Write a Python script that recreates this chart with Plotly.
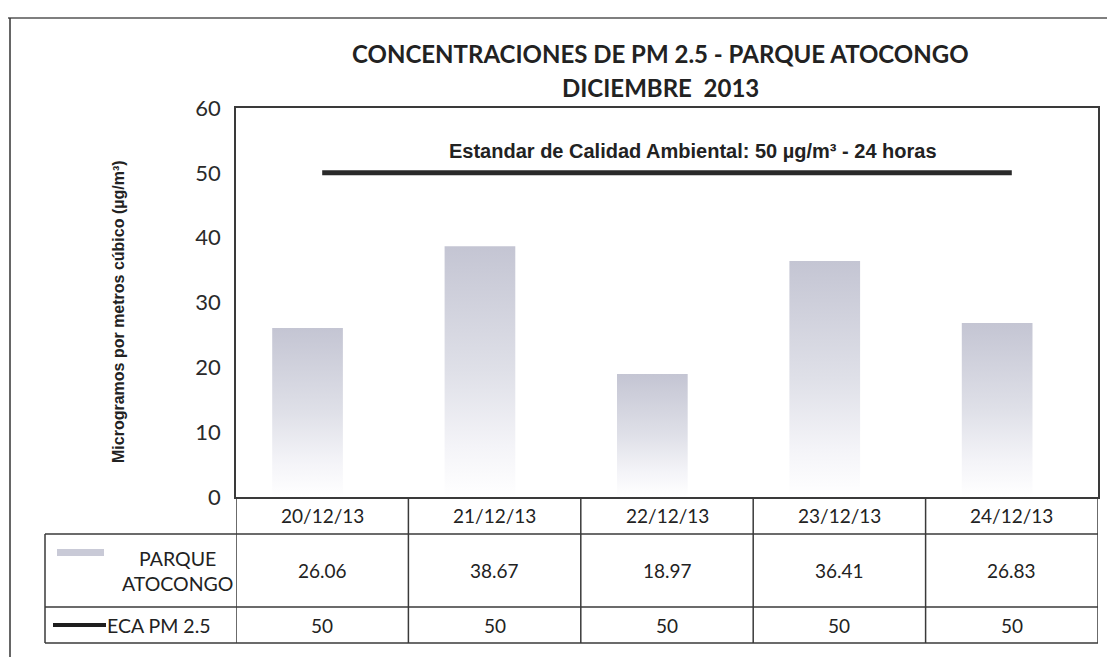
import plotly.graph_objects as go

# ---------------- data ----------------
categories = ["20/12/13", "21/12/13", "22/12/13", "23/12/13", "24/12/13"]
pm25_parque = [26.06, 38.67, 18.97, 36.41, 26.83]
eca_pm25 = [50, 50, 50, 50, 50]
series_names = ["PARQUE<br>ATOCONGO", "ECA PM 2.5"]
y_ticks = [0, 10, 20, 30, 40, 50, 60]
title_lines = ["CONCENTRACIONES DE PM 2.5 - PARQUE ATOCONGO", "DICIEMBRE  2013"]
eca_label = "Estandar de Calidad Ambiental: 50 µg/m³ - 24 horas"
y_title = "Microgramos por metros cúbico (µg/m³)"

# ---------------- layout geometry (page pixels) ----------------
PAGE_W, PAGE_H = 1115, 657
O = 8                      # browser body margin
W, H = PAGE_W - O, PAGE_H - O
L, R, T, B = 236, 1098, 108, 497   # plot area in page pixels


def xp(px):
    return (px - L) / (R - L)


def yp(py):
    return (B - py) / (B - T)


CAL = "Lato, 'Open Sans', sans-serif"
ARI = "'Liberation Sans', Arial, sans-serif"
INK = "#222222"
LINE = "#3a3a3a"

fig = go.Figure()

# bars drawn as gradient-filled rectangles on the data axes
bar_off, bar_w = -0.29, 0.41
for i, v in enumerate(pm25_parque):
    x0, x1 = i + bar_off, i + bar_off + bar_w
    fig.add_trace(go.Scatter(
        x=[x0, x1, x1, x0, x0], y=[0, 0, v, v, 0],
        mode="lines", line=dict(width=0, color="rgba(0,0,0,0)"),
        fill="toself",
        fillgradient=dict(type="vertical",
                          colorscale=[[0, "#ffffff"], [0.2, "#f4f4f8"],
                                      [0.5, "#dfe0e8"], [1, "#c4c5d3"]]),
        showlegend=False, hoverinfo="skip",
    ))

# ECA standard line
fig.add_trace(go.Scatter(
    x=list(range(len(categories))), y=eca_pm25, mode="lines",
    line=dict(color="#2a2a2a", width=5), showlegend=False,
))

fig.update_layout(
    width=W, height=H,
    margin=dict(l=L - O, r=PAGE_W - R, t=T - O, b=PAGE_H - B),
    paper_bgcolor="white", plot_bgcolor="white",
    showlegend=False,
    xaxis=dict(range=[-0.5, len(categories) - 0.5], showticklabels=False,
               ticks="", showgrid=False, zeroline=False,
               showline=True, mirror=True, linecolor=LINE, linewidth=1.5),
    yaxis=dict(range=[0, 60], tickvals=y_ticks, ticks="", showgrid=False,
               zeroline=False, showline=True, mirror=True, linecolor=LINE,
               linewidth=1.5, ticklabelstandoff=9,
               tickfont=dict(family=CAL, size=22, color="#2a2a2a")),
)

annotations = []
shapes = []


def note(text, x, y, xref="paper", yref="paper", xanchor="center",
         yanchor="middle", font=None, **kw):
    d = dict(text=text, x=x, y=y, xref=xref, yref=yref, showarrow=False,
             xanchor=xanchor, yanchor=yanchor, font=font)
    d.update(kw)
    annotations.append(d)


# titles
for k, txt in enumerate(title_lines):
    note(f"<b>{txt}</b>", xp(660), yp(53 + 34 * k),
         font=dict(family=CAL, size=24, color=INK))

# y-axis title
note(f"<b>{y_title}</b>", xp(118), yp(312), textangle=-90,
     font=dict(family=ARI, size=16, color=INK))

# ECA label
note(f"<b>{eca_label}</b>", xp(693), 53.3, yref="y",
     font=dict(family=ARI, size=20, color=INK))

# data table rows (page pixel rows)
row_hdr = (497, 534)
row_p = (534, 607)
row_e = (607, 643)
tbl_left = 45

for i, c in enumerate(categories):
    note(c, i, yp(sum(row_hdr) / 2), xref="x",
         font=dict(family=CAL, size=19, color=INK))
    note(f"{pm25_parque[i]:.2f}", i, yp(sum(row_p) / 2), xref="x",
         font=dict(family=CAL, size=19, color=INK))
    note(f"{eca_pm25[i]}", i, yp(sum(row_e) / 2), xref="x",
         font=dict(family=CAL, size=19, color=INK))

# row labels
note(series_names[0], xp(177), yp(sum(row_p) / 2), align="center",
     font=dict(family=CAL, size=19.5, color=INK))
note(series_names[1], xp(105), yp(sum(row_e) / 2), xanchor="left",
     font=dict(family=CAL, size=19.5, color=INK))

# legend keys
shapes.append(dict(type="rect", xref="paper", yref="paper",
                   x0=xp(57), x1=xp(104), y0=yp(556), y1=yp(549),
                   line=dict(width=0), fillcolor="#c9cad7"))
shapes.append(dict(type="line", xref="paper", yref="paper",
                   x0=xp(53), x1=xp(106), y0=yp(625), y1=yp(625),
                   line=dict(color="#1e1e1e", width=4)))

# table horizontal lines
for py in (row_hdr[1], row_p[1], row_e[1]):
    shapes.append(dict(type="line", xref="paper", yref="paper",
                       x0=xp(tbl_left), x1=1, y0=yp(py), y1=yp(py),
                       line=dict(color=LINE, width=1.5)))
# table left edge
shapes.append(dict(type="line", xref="paper", yref="paper",
                   x0=xp(tbl_left), x1=xp(tbl_left),
                   y0=yp(row_p[0]), y1=yp(row_e[1]),
                   line=dict(color=LINE, width=1.5)))
# column separators at category boundaries
for i in range(len(categories) + 1):
    shapes.append(dict(type="line", xref="x", yref="paper",
                       x0=i - 0.5, x1=i - 0.5, y0=0, y1=yp(row_e[1]),
                       line=dict(color=LINE, width=1.5)))

# outer frame (top and left)
shapes.append(dict(type="line", xref="paper", yref="paper",
                   x0=xp(8), x1=xp(PAGE_W), y0=yp(18), y1=yp(18),
                   line=dict(color="#555555", width=1.5)))
shapes.append(dict(type="line", xref="paper", yref="paper",
                   x0=xp(10), x1=xp(10), y0=yp(18), y1=yp(PAGE_H),
                   line=dict(color="#333333", width=1.5)))

fig.update_layout(annotations=annotations, shapes=shapes)

fig.write_html("out.html")
